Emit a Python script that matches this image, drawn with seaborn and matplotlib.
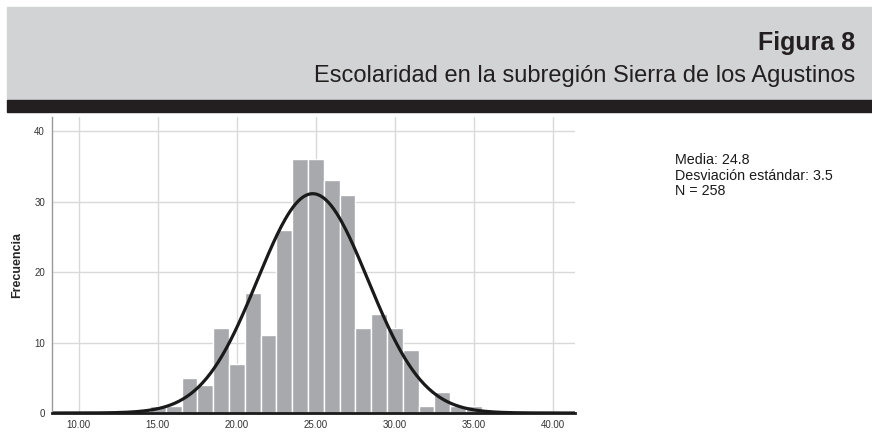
import numpy as np
import pandas as pd
import seaborn as sns
import matplotlib.pyplot as plt
from matplotlib.patches import Rectangle

# bin counts (bins of width 1, edges at x.5)
bin_left = [14.5, 15.5, 16.5, 17.5, 18.5, 19.5, 20.5, 21.5, 22.5, 23.5, 24.5,
            25.5, 26.5, 27.5, 28.5, 29.5, 30.5, 31.5, 32.5, 33.5, 34.5]
counts = [1, 1, 5, 4, 12, 7, 17, 11, 26, 36, 36, 33, 31, 12, 14, 12, 9, 1, 3, 1, 1]
bin_width = 1.0

media = 24.8
desv = 3.5
n_label = 258

x_ticks = [10, 15, 20, 25, 30, 35, 40]
y_ticks = [0, 10, 20, 30, 40]

titulo = "Figura 8"
subtitulo = "Escolaridad en la subregión Sierra de los Agustinos"

sns.set_style("white")
plt.rcParams['font.family'] = ['Liberation Sans', 'DejaVu Sans']

df = pd.DataFrame({'centro': np.array(bin_left) + bin_width / 2, 'n': counts})
edges = list(bin_left) + [bin_left[-1] + bin_width]

fig = plt.figure(figsize=(8.72, 4.41), dpi=100)

# cabecera gris y barra negra
fig.patches.append(Rectangle((7 / 872, 1 - 100 / 441), 1, 93 / 441,
                             transform=fig.transFigure, color='#d1d3d4', zorder=0))
fig.patches.append(Rectangle((7 / 872, 1 - 112 / 441), 1, 12 / 441,
                             transform=fig.transFigure, color='#231f20', zorder=0))
fig.text(855 / 872, 1 - 50 / 441, titulo, ha='right', va='baseline',
         fontsize=18, fontweight='bold', color='#231f20')
fig.text(855 / 872, 1 - 82 / 441, subtitulo, ha='right', va='baseline',
         fontsize=17, color='#231f20')

ax = fig.add_axes([52 / 872, 1 - 413 / 441, 523 / 872, 296 / 441])
ax.set_axisbelow(True)
ax.grid(True, color='#d9d9d9', lw=1)

sns.histplot(data=df, x='centro', weights='n', bins=edges, ax=ax,
             color='#a7a9ac', alpha=1, edgecolor='white', linewidth=1)

# curva normal escalada al area del histograma
xs = np.linspace(8.3, 41.4, 400)
area = sum(counts) * bin_width
ys = area / (desv * np.sqrt(2 * np.pi)) * np.exp(-0.5 * ((xs - media) / desv) ** 2)
sns.lineplot(x=xs, y=ys, ax=ax, color='#1a1a1a', lw=2.3)

ax.set_xlim(8.3, 41.4)
ax.set_ylim(0, 42)
ax.set_xticks(x_ticks)
ax.set_xticklabels([f"{v:.2f}" for v in x_ticks])
ax.set_yticks(y_ticks)
ax.tick_params(axis='both', length=0, labelsize=7, labelcolor='#333333')
ax.tick_params(axis='x', pad=5)
ax.tick_params(axis='y', pad=5)
ax.set_xlabel('')
ax.set_ylabel('Frecuencia', fontsize=9, fontweight='bold', labelpad=8)

for s in ['top', 'right']:
    ax.spines[s].set_visible(False)
ax.spines['left'].set_color('#999999')
ax.spines['left'].set_linewidth(1)
ax.spines['bottom'].set_color('#1a1a1a')
ax.spines['bottom'].set_linewidth(2)

fig.text(675 / 872, 1 - 153 / 441,
         f"Media: {media}\nDesviación estándar: {desv}\nN = {n_label}",
         ha='left', va='top', fontsize=10.3, color='#1a1a1a', linespacing=1.15)

fig.savefig('out.png', dpi=100)
